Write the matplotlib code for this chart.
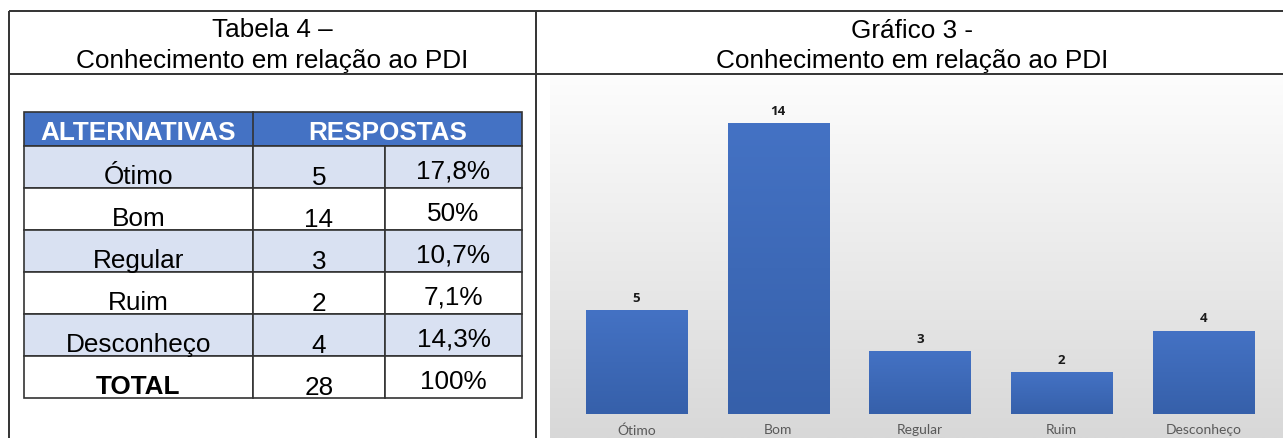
import numpy as np
import matplotlib
matplotlib.use("Agg")
import matplotlib.pyplot as plt
from matplotlib.patches import Rectangle
from matplotlib.colors import LinearSegmentedColormap

# Table / chart data
alternativas = ["Ótimo", "Bom", "Regular", "Ruim", "Desconheço"]
respostas = [5, 14, 3, 2, 4]
percentuais = ["17,8%", "50%", "10,7%", "7,1%", "14,3%"]
total_label = "TOTAL"
total_resp = 28
total_pct = "100%"

W, H = 1283, 439
fig = plt.figure(figsize=(W / 100, H / 100), dpi=100)

# page overlay in pixel coordinates (frame, titles, table)
page = fig.add_axes([0, 0, 1, 1], zorder=0)
page.set_xlim(0, W)
page.set_ylim(H, 0)
page.axis("off")

frame_kw = dict(color="#333333", lw=1.4, solid_capstyle="butt")
page.plot([9, W], [12, 12], **frame_kw)
page.plot([9, W], [75, 75], **frame_kw)
page.plot([9, 9], [12, H], **frame_kw)
page.plot([536, 536], [12, H], **frame_kw)

font = "Liberation Sans"
fs = 18.8
page.text(272.5, 37, "Tabela 4 –", ha="center", va="baseline", fontsize=fs, family=font)
page.text(272.5, 68, "Conhecimento em relação ao PDI", ha="center", va="baseline",
          fontsize=fs, family=font)
page.text(912, 38, "Gráfico 3 -", ha="center", va="baseline", fontsize=fs, family=font)
page.text(912, 68, "Conhecimento em relação ao PDI", ha="center", va="baseline",
          fontsize=fs, family=font)

# table
col_x = [24, 253, 385, 522]
head_top, head_bot = 113, 147
row_h = 42
line_c = "#333333"
page.add_patch(Rectangle((col_x[0], head_top), col_x[3] - col_x[0], head_bot - head_top,
                         facecolor="#4472c4", edgecolor=line_c, lw=1.2))
page.plot([col_x[1], col_x[1]], [head_top, head_bot], color=line_c, lw=1.2)
page.text((col_x[0] + col_x[1]) / 2, head_bot - 7, "ALTERNATIVAS", ha="center", va="baseline",
          fontsize=fs, fontweight="bold", color="white", family=font)
page.text((col_x[1] + col_x[3]) / 2, head_bot - 7, "RESPOSTAS", ha="center", va="baseline",
          fontsize=fs, fontweight="bold", color="white", family=font)

rows = list(zip(alternativas, [str(v) for v in respostas], percentuais))
rows.append((total_label, str(total_resp), total_pct))
for i, (alt, resp, pct) in enumerate(rows):
    top = head_bot + i * row_h
    bot = top + row_h
    fc = "#d9e1f2" if i % 2 == 0 and i < len(alternativas) else "white"
    for c in range(3):
        page.add_patch(Rectangle((col_x[c], top), col_x[c + 1] - col_x[c], row_h,
                                 facecolor=fc, edgecolor=line_c, lw=1.2))
    bold = "bold" if alt == total_label else "normal"
    page.text((col_x[0] + col_x[1]) / 2, bot - 5, alt, ha="center", va="baseline",
              fontsize=fs, fontweight=bold, family=font)
    page.text((col_x[1] + col_x[2]) / 2, bot - 4, resp, ha="center", va="baseline",
              fontsize=fs, family=font)
    page.text((col_x[2] + col_x[3]) / 2, bot - 10, pct, ha="center", va="baseline",
              fontsize=fs, family=font)

# chart background gradient
bg_left, bg_top = 550, 76
bg = fig.add_axes([bg_left / W, 0, (W - bg_left) / W, (H - bg_top) / H], zorder=1)
bg_cmap = LinearSegmentedColormap.from_list("bg", ["#fdfdfd", "#d8d8d8"])
bg.imshow(np.linspace(0, 1, 256).reshape(-1, 1), aspect="auto", cmap=bg_cmap,
          extent=[0, 1, 0, 1], origin="upper")
bg.axis("off")

# bar chart
base_px = 414.5
top_px = bg_top
ax = fig.add_axes([bg_left / W, (H - base_px) / H, (W - bg_left) / W, (base_px - top_px) / H],
                  zorder=2)
ax.patch.set_alpha(0)
x = np.arange(len(alternativas))
bars = ax.bar(x, respostas, width=0.713, color="#4472c4")
step_px = 141.75
px_per_unit = (base_px - 124) / max(respostas)

bar_cmap = LinearSegmentedColormap.from_list("bar", ["#4472c4", "#3660aa"])
for b in bars:
    x0, w, h = b.get_x(), b.get_width(), b.get_height()
    im = ax.imshow(np.linspace(0, 1, 128).reshape(-1, 1), aspect="auto", cmap=bar_cmap,
                   extent=[x0, x0 + w, 0, h], origin="upper", zorder=2)
    im.set_clip_path(b)
ax.set_xlim(-(636.5 - bg_left) / step_px, (W - 636.5) / step_px)
ax.set_ylim(0, (base_px - top_px) / px_per_unit)

for xi, v in zip(x, respostas):
    ax.annotate(str(v), (xi, v), xytext=(0, 4.5), textcoords="offset points",
                ha="center", va="bottom", fontsize=9.5, fontweight="bold",
                color="#1a1a1a", family="Open Sans", zorder=3)

ax.set_xticks(x, alternativas, fontsize=10, color="#595959", family="Lato")
ax.tick_params(axis="x", length=0, pad=7)
ax.set_yticks([])
for s in ax.spines.values():
    s.set_visible(False)

fig.savefig("out.png", dpi=100)
